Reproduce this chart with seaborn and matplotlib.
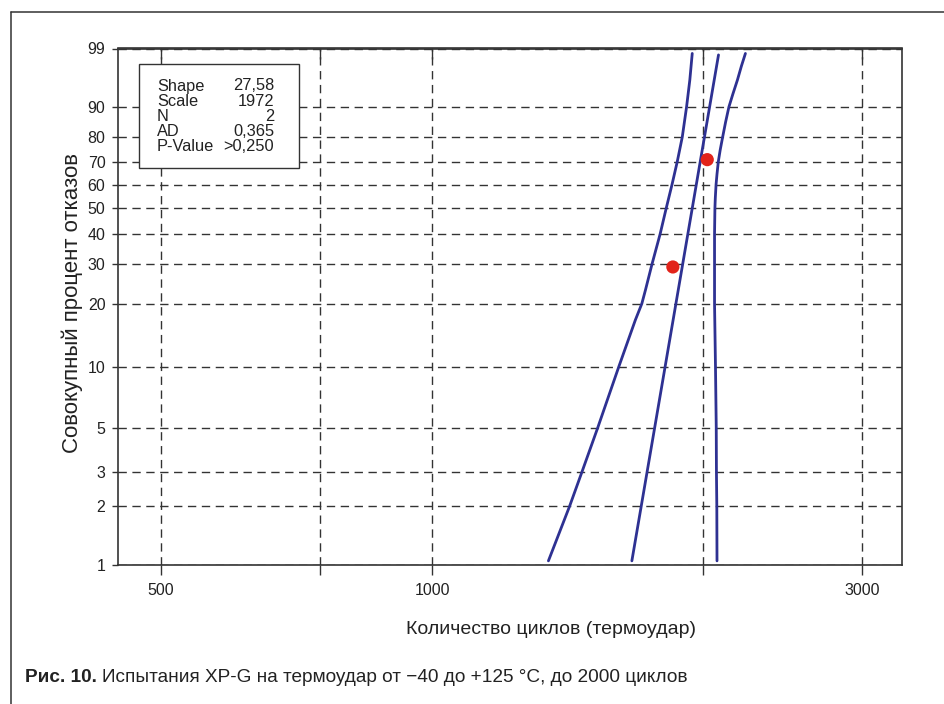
import numpy as np
import seaborn as sns
import matplotlib.pyplot as plt
from matplotlib import font_manager
from matplotlib.lines import Line2D
from matplotlib.patches import Rectangle
from matplotlib.ticker import NullLocator

# data
fail_cycles = [1850, 2020]
fail_pct = [29.17, 70.83]

fit_cycles = [1666, 2079]
fit_pct = [1.05, 98.6]

lower_cycles = [1346, 1421, 1467, 1527, 1611, 1681, 1709, 1725, 1754, 1791, 1819, 1846,
                1871, 1895, 1916, 1932, 1944]
lower_pct = [1.05, 2, 3, 5, 10, 16.8, 20, 23.1, 30, 40, 50, 60, 70, 80, 90, 95.8, 98.7]

upper_cycles = [2071, 2070, 2068, 2067, 2063, 2058, 2058, 2058, 2060, 2062, 2066, 2071,
                2078, 2088, 2101, 2117, 2135, 2157, 2182, 2204, 2227]
upper_pct = [1.05, 2, 3, 5, 10, 20, 30, 40, 50, 54.2, 60, 64.6, 70, 74.9, 80, 85.4, 90,
             93.2, 95.8, 97.6, 98.7]

stats_names = ['Shape', 'Scale', 'N', 'AD', 'P-Value']
stats_values = ['27,58', '1972', '2', '0,365', '>0,250']

y_ticks = [1, 2, 3, 5, 10, 20, 30, 40, 50, 60, 70, 80, 90, 99]
x_ticks = [500, 750, 1000, 2000, 3000]
x_tick_labels = ['500', '', '1000', '', '3000']

navy = '#2e3192'
red = '#e2231a'
dark = '#333333'

W, H = 945, 704


# weibull probability scale
def weib(p):
    p = np.clip(np.asarray(p, dtype=float), 1e-6, 100 - 1e-6)
    return np.log(-np.log(1 - p / 100))


def weib_inv(w):
    return 100 * (1 - np.exp(-np.exp(w)))


sns.set_style('white')
names = {f.name for f in font_manager.fontManager.ttflist}
narrow = 'Liberation Sans Narrow' if 'Liberation Sans Narrow' in names else 'Liberation Sans'
plt.rcParams['font.family'] = ['Liberation Sans', 'DejaVu Sans']

fig = plt.figure(figsize=(W / 100, H / 100), dpi=100)
ax = fig.add_axes([118 / W, 1 - 565 / H, (902 - 118) / W, (565 - 48.5) / H])
ax.set_xscale('log')
ax.set_yscale('function', functions=(weib, weib_inv))

# confidence bands and fitted line
for xs, ys in [(lower_cycles, lower_pct), (fit_cycles, fit_pct), (upper_cycles, upper_pct)]:
    sns.lineplot(x=xs, y=ys, sort=False, estimator=None, color=navy, lw=2.0, ax=ax, zorder=3)

sns.scatterplot(x=fail_cycles, y=fail_pct, color=red, s=90, edgecolor='none', ax=ax, zorder=5)

ax.set_xlim(448, 3323)
ax.set_ylim(1, 99)
ax.xaxis.set_minor_locator(NullLocator())
ax.yaxis.set_minor_locator(NullLocator())
ax.set_xticks(x_ticks, x_tick_labels)
ax.set_yticks(y_ticks, [str(t) for t in y_ticks])
ax.set_xlabel('')
ax.set_ylabel('')

ax.grid(True, which='major', color=dark, ls=(0, (6, 4)), lw=1.0)
for s in ax.spines.values():
    s.set_color(dark)
    s.set_linewidth(1.2)
ax.tick_params(axis='y', left=True, direction='out', length=4, width=1, color=dark,
               pad=5, labelsize=11.5, labelcolor='#222222')
ax.tick_params(axis='x', bottom=True, direction='out', length=7, width=1, color=dark,
               pad=6, labelsize=11.5, labelcolor='#222222')

# inward ticks along the top
top = ax.secondary_xaxis('top')
top.set_xticks(x_ticks, [''] * len(x_ticks))
top.xaxis.set_minor_locator(NullLocator())
top.tick_params(direction='in', length=8, width=1, color=dark)
top.spines['top'].set_color(dark)
top.spines['top'].set_linewidth(1.2)

# stats box
fig.add_artist(Rectangle((139 / W, 1 - 168 / H), 160 / W, 104 / H, transform=fig.transFigure,
                         facecolor='white', edgecolor=dark, lw=1.0, zorder=2))
for i, (n, v) in enumerate(zip(stats_names, stats_values)):
    y = 1 - (86 + 15.2 * i) / H
    fig.text(157 / W, y, n, ha='left', va='center', fontsize=11.8, color='#222222', zorder=3)
    fig.text(274 / W, y, v, ha='right', va='center', fontsize=11.8, color='#222222', zorder=3)

# axis titles
fig.text(72 / W, 1 - 303 / H, 'Совокупный процент отказов', rotation=90, ha='center',
         va='center', fontsize=16, color='#222222')
fig.text(551 / W, 1 - 630 / H, 'Количество циклов (термоудар)', ha='center', va='center',
         fontsize=14, color='#222222', family=[narrow, 'DejaVu Sans'])

# outer frame
fig.add_artist(Line2D([11 / W, 11 / W], [0, 1 - 12 / H], transform=fig.transFigure, color=dark, lw=1.1))
fig.add_artist(Line2D([11 / W, 1], [1 - 12 / H, 1 - 12 / H], transform=fig.transFigure, color=dark, lw=1.1))

# caption
cap1 = fig.text(25 / W, 1 - 677 / H, 'Рис. 10.', ha='left', va='center', fontsize=13.7,
                fontweight='bold', color='#222222', family=[narrow, 'DejaVu Sans'])
fig.canvas.draw()
bb = cap1.get_window_extent()
fig.text(bb.x1 / W + 5 / W, 1 - 677 / H, 'Испытания XP-G на термоудар от \u221240 до +125 °C, до 2000 циклов',
         ha='left', va='center', fontsize=13.7, color='#222222', family=[narrow, 'DejaVu Sans'])

fig.savefig('out.png', dpi=100)
